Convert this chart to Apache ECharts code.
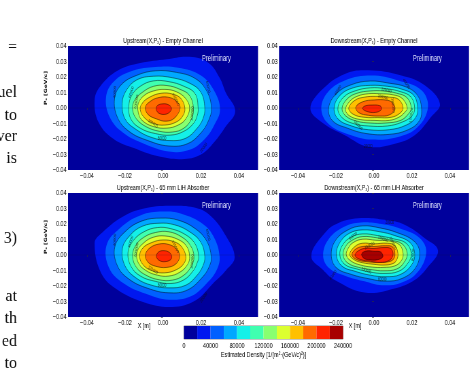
<!DOCTYPE html>
<html><head><meta charset="utf-8">
<style>html,body{margin:0;padding:0;background:#fff;overflow:hidden;width:474px;height:373px}#c{width:697px;height:373px;transform:scaleX(0.68);transform-origin:0 0;filter:blur(0.3px)}</style>
<script src="https://cdn.jsdelivr.net/npm/echarts@6/dist/echarts.min.js"></script>
</head><body><div id="c"></div>
<script>
const bandLevels = [0,20000,40000,60000,80000,100000,120000,140000,160000,180000,200000,220000,240000];
const bandColors = ['#00009c','#0018f0','#0060ff','#00a8ff','#14f0e8','#40ffb0','#88ff70','#dcff30','#ffc000','#ff6a00','#ff2400','#a80000'];
const colorbarTicks = [0,40000,80000,120000,160000,200000,240000];
const xTicks = [-0.04,-0.02,0,0.02,0.04];
const panelTitles = ['Upstream(X,P{s|x}) - Empty Channel','Downstream(X,P{s|x}) - Empty Channel','Upstream(X,P{s|x}) - 65 mm LiH Absorber','Downstream(X,P{s|x}) - 65 mm LiH Absorber'];

// contour outlines, [X, Px] in units of 0.001; the first ring is level 20000, then every 20000
const upstreamEmpty = [
[[38,-2],[33,10],[30,19],[24,29],[14,33],[2,31.5],[-12,29],[-24,24],[-33,14],[-36,5],[-34,-9],[-26,-20],[-15,-26],[-3,-31],[10,-33],[20,-30],[27,-22],[33,-12]],
[[30,-1],[27,11],[20,21],[8,26],[-4,26.5],[-16,24],[-26,17],[-30,7],[-28,-6],[-21,-16],[-10,-23],[3,-28],[14,-27],[22,-20],[27,-11]],
[[25.5,0],[23,11],[17,19],[7,23],[-4,24],[-14,21],[-22,15],[-25.5,6],[-24,-6],[-18,-15],[-8,-21],[3,-24.5],[13,-23],[20,-16],[24,-8]],
[[22,0],[20,10],[14,16],[5,19.5],[-5,20.5],[-14,18],[-19.5,11],[-21.5,3],[-20,-7],[-14,-14],[-6,-19],[3,-21],[12,-19.5],[18,-13],[21,-7]],
[[18.5,0],[17,9],[11,14],[3,17],[-5,17.5],[-12,14],[-16.5,8],[-18,1],[-17,-7],[-12,-13],[-4,-16.5],[4,-17.5],[11,-15],[16,-10],[18,-5]],
[[16,0],[14,8],[9,12],[2,14.5],[-5,14],[-11,10],[-15,5],[-16,-1],[-14,-7],[-9,-12],[-2,-15],[5,-15.5],[11,-13],[15,-7]],
[[14,0],[12,6],[7,10.5],[1,12],[-5,11],[-10,8],[-13,3],[-13,-3],[-11,-8],[-5,-12],[2,-13],[8,-11],[12,-7]],
[[11.5,0],[9.5,6],[5,9],[-1,9.5],[-7,7],[-11,3],[-12,-1],[-10,-6],[-5,-10],[1,-11],[7,-9],[10.5,-5]],
[[9,0],[7,4.5],[2.5,7],[-3,6.5],[-7,4],[-9.3,0.5],[-8,-4],[-3.5,-7],[1.5,-8.5],[6,-6.5]],
[[4.4,0],[3,2],[0,2.7],[-3,1.5],[-3.6,-1],[-2,-3.5],[1.5,-4],[4,-2]]
];
const downstreamEmpty = [
[[34.7,2.8],[26.7,14.6],[14.4,21],[-3,24.3],[-15.4,22],[-27.7,11.4],[-33.5,-0.4],[-27.7,-9],[-15.4,-17.6],[-3,-25],[11,-23],[21.4,-17.6],[30,-5.8]],
[[28.4,0.5],[25,11.4],[12.6,17.8],[-1.4,21],[-15.4,17.8],[-25,9.2],[-27.7,-1.5],[-23.3,-11],[-12,-17.6],[-1.4,-20.4],[12.6,-18.7],[23,-12.3]],
[[25,0],[23,8],[17,13.5],[8,16],[-2,17.4],[-12,15],[-20,9],[-23.9,0],[-22,-8],[-14,-13],[-4,-16.5],[8,-17],[18,-14],[24,-8]],
[[23,0],[21,8],[15,12],[7,14],[-2,14.6],[-11,13],[-18,8],[-21,0],[-19,-7],[-12,-11.5],[-3,-14],[8,-14],[17,-11],[22,-6]],
[[21.4,0],[19.5,7],[14,10.5],[6,12.5],[-2,13],[-10,11],[-16,7],[-19,0],[-17,-6],[-11,-10],[-3,-11.6],[7,-11.6],[15,-9],[20,-5]],
[[19.6,0],[17.5,6.5],[12,9.5],[5,11],[-2,11],[-9,9.5],[-14,6],[-16.8,0],[-15,-5],[-9,-8.5],[-2,-9.7],[6,-9.7],[14,-8],[18,-4]],
[[17.5,0],[15,6],[10,8.5],[3,9.2],[-3,9.2],[-9,7.5],[-13,4],[-15,-1],[-13,-5],[-7,-7.5],[0,-8],[8,-8],[13,-6],[16,-3]],
[[15.3,0],[13,5.5],[8,7],[1,7.5],[-5,7],[-10,5],[-13.3,0],[-11,-4],[-5,-6],[2,-6.2],[9,-6],[13.5,-3.5]],
[[11,-1],[10,3],[7,5],[0,5.2],[-6,4],[-9.6,0.5],[-8,-3],[-3,-4.7],[3,-5.2],[8,-4.5]],
[[4,0],[3,1.5],[-1,1.9],[-5,1.2],[-6,-0.5],[-3,-2.5],[1,-2.8],[3.5,-1.5]]
];
const upstreamLiH = [
[[37.7,-1.5],[33.3,11.9],[25.4,24.9],[17.5,30.3],[5,31.8],[-8.8,30.3],[-21,24.9],[-33.3,13],[-36,7.5],[-33.3,-9.7],[-26.3,-20.5],[-10.5,-30.3],[5,-33.5],[17.5,-29],[26.3,-18.4],[33.3,-9.7]],
[[29.8,-1],[27,11],[21,20],[10,26.5],[0,28],[-12,25.5],[-23,17],[-29.8,6],[-28.5,-8],[-21,-18],[-9,-25],[3,-28.8],[15,-26.5],[24,-17],[28.5,-9]],
[[25.4,-1],[23,9],[17,17],[8,22.5],[-1,23.8],[-11,22],[-20,15],[-25.4,5],[-24,-7],[-18,-15.5],[-8,-21.5],[3,-24.4],[13,-22.5],[21,-14],[24.5,-7]],
[[22,-1],[20,8],[14,15],[6,19.5],[-2,20.5],[-11,18.5],[-17.5,12.5],[-21.4,4],[-20,-7],[-14,-15],[-6,-19.5],[3,-21.2],[12,-19.5],[18,-13],[21,-7]],
[[18.8,-1],[17,7],[12,13],[4,17],[-3,17.7],[-10,15],[-15.5,9.5],[-18.4,2],[-17,-7],[-12,-13.5],[-4,-17],[4,-18.4],[11,-16],[16,-10],[18,-5]],
[[16.3,-1],[14.5,6],[10,11.5],[3,15],[-4,14.5],[-10,11.5],[-14.5,6],[-16,-1],[-14,-8],[-9,-13],[-2,-16],[5,-16.2],[11,-13],[15,-7]],
[[14,-1],[12.5,5.5],[8,10],[1,12.3],[-5,11.5],[-10,8],[-13.7,2],[-13,-5],[-9,-10],[-3,-13],[3,-13.6],[9,-11],[13,-6]],
[[12,-1],[10,5],[6,8.5],[0,9.7],[-6,8],[-11,4],[-12.3,-1.5],[-10,-7],[-5,-10.5],[1,-11.5],[7,-9.5],[11,-5.5]],
[[8.8,-0.5],[7,4],[3,6.8],[-2,7.1],[-7,4.5],[-9.3,0],[-8,-4.5],[-4,-7.2],[2,-8],[7,-5.5]],
[[4.6,-1],[3.5,1.5],[0.5,2.8],[-2.5,1.8],[-3.5,-1],[-2,-3.5],[1,-4.3],[4,-3]]
];
const downstreamLiH = [
[[33.7,2.8],[26.7,10.8],[16.1,19.5],[5.6,22.7],[-6.7,23.8],[-19,20.5],[-26,14],[-33,-0.6],[-26.8,-9.7],[-20.7,-16.2],[-5,-24.2],[10.9,-21.6],[21.4,-16.2],[28.4,-7.6]],
[[27.5,2],[24,11],[14,17],[4,20],[-7,21],[-16,18],[-24,10],[-26.8,0],[-24,-8],[-15,-13.5],[-5,-17],[4,-19.5],[14,-18],[23,-11]],
[[24,2],[21,9],[12,14.5],[3,17.5],[-6,18.8],[-14,16],[-20.5,9],[-22.5,0],[-20,-8],[-12,-12.5],[-2,-15.5],[6,-16.9],[15,-15],[22,-8]],
[[21.4,1],[19,8],[11,12.5],[3,15],[-6,16.2],[-13,14],[-18,8],[-19.8,0],[-17,-7],[-10,-10.5],[-2,-13],[6,-14],[14,-12.5],[20,-6]],
[[19.6,1],[17,7.5],[10,10.5],[2,12.5],[-6,13.6],[-12,11.5],[-16.5,6.5],[-18,0],[-15.5,-6],[-9,-9],[-2,-11],[5,-11.9],[13,-10.5],[18,-5]],
[[17.5,1],[15,7],[9,9.5],[2,11],[-6,11.9],[-11.5,9.5],[-15,5.5],[-16.3,0],[-14,-5],[-8,-8],[-1,-9.5],[5,-10.2],[12,-9],[16,-4.5]],
[[15.3,1],[13.5,6.5],[8,9],[1,9.5],[-6,10.2],[-11,8],[-13.5,4.5],[-14.6,0],[-12,-4],[-7,-6.5],[-1,-7.8],[5,-8],[11,-7],[14.5,-3.5]],
[[12.6,1],[11,6],[7,7.6],[0,7.2],[-6,7.6],[-10,5.5],[-12.8,0.5],[-10.5,-3],[-6,-5],[0,-6],[5,-6.5],[10,-5.5],[12,-3]],
[[11,0],[10,5],[6,6],[0,5.5],[-6,5.5],[-10,3.5],[-11.6,0],[-9,-3],[-4,-4.3],[2,-4.8],[7,-4.5],[10,-3]],
[[10,0],[9,4],[5,4.8],[0,4.2],[-5,4.3],[-9,2],[-10,-0.5],[-7,-3],[-2,-4],[3,-4.8],[8,-3.5]],
[[4.6,0],[3.5,2],[0,2.4],[-4,2.6],[-6.5,0.8],[-5.5,-2],[-2,-3.2],[2,-3],[4.5,-1.5]]
];
// contour labels: X, Px (0.001), text, angle
const labelsUpEmpty = [[-25.4,10.3,'40000',85],[-16.7,10.3,'60000',65],[-14,3.9,'100000',75],[6.7,5.6,'140000',-55],[-5.3,-10,'120000',-25],[-0.5,-20,'80000',0],[15.4,-3.7,'100000',85],[23.7,13.5,'60000',-70],[21.4,-25.6,'20000',45]];
const labelsDownEmpty = [[-19,11.4,'40000',50],[6.5,11.4,'120000',-10],[4.7,7,'160000',-10],[10,1.7,'180000',-80],[19.6,-4.7,'100000',80],[-8.4,-11,'100000',-35],[-3,-25,'20000',0],[17,15.7,'40000',-45]];
const labelsUpLiH = [[-25.4,9.7,'40000',85],[-17,8.6,'60000',65],[-14,3.2,'100000',75],[6.5,5.4,'140000',-55],[-5.3,-9.7,'120000',-25],[-0.5,-19.9,'80000',0],[15.4,-4.3,'100000',85],[23.7,13,'60000',-70],[21.4,-27.5,'20000',45]];
const labelsDownLiH = [[-11,12.3,'60000',30],[-2.3,6,'160000',20],[4.7,10.4,'120000',-15],[10,7.6,'180000',-55],[20.5,0,'80000',85],[-4,-10,'120000',-15],[4.4,-15.8,'60000',0],[8.2,21,'20000',0],[-21.6,-13,'40000',45]];

const SQUEEZE=0.68, X=px=>px/SQUEEZE;
const FONT='"Liberation Sans",sans-serif';
const INK='#000';
const panels = [
 {rings:upstreamEmpty, labels:labelsUpEmpty, left:68, top:46},
 {rings:downstreamEmpty, labels:labelsDownEmpty, left:279, top:46},
 {rings:upstreamLiH, labels:labelsUpLiH, left:68, top:193},
 {rings:downstreamLiH, labels:labelsDownLiH, left:279, top:193}
];
const W=190,H=124;
const grid=[],xAxis=[],yAxis=[],series=[],title=[];
const fmt=v=>v.toFixed(2).replace('-','\u2212').replace(/^\u22120\.00$/,'0.00');
panels.forEach((p,k)=>{
  grid.push({left:X(p.left),top:p.top,width:X(W),height:H,backgroundColor:bandColors[0],show:true,borderWidth:0});
  xAxis.push({gridIndex:k,type:'value',min:-0.05,max:0.05,splitLine:{show:false},axisLine:{show:false},
    axisTick:{show:true,length:2,customValues:xTicks,lineStyle:{color:'#333',width:0.6}},
    axisLabel:{customValues:xTicks,formatter:v=>fmt(v),fontFamily:FONT,fontSize:8,color:INK,margin:2}});
  yAxis.push({gridIndex:k,type:'value',min:-0.04,max:0.04,interval:0.01,splitLine:{show:false},axisLine:{show:false},
    axisTick:{show:true,length:3,lineStyle:{color:'#333',width:0.6}},
    axisLabel:{formatter:v=>fmt(v),fontFamily:FONT,fontSize:8,color:INK,margin:2}});
  const rings=p.rings;
  series.push({type:'custom',xAxisIndex:k,yAxisIndex:k,coordinateSystem:'cartesian2d',clip:true,silent:true,
    data:rings.map((r,i)=>[0,0,bandLevels[i+1]]),
    renderItem:(params,api)=>{
      const i=params.dataIndex;
      const pts=rings[i].map(q=>api.coord([q[0]/1000,q[1]/1000]));
      return {type:'polygon',shape:{points:pts,smooth:0.4},
        style:{fill:bandColors[i+1],stroke:i>=2?'rgba(0,0,0,0.7)':null,lineWidth:i>=2?0.65:0}};
    }});
  series.push({type:'line',xAxisIndex:k,yAxisIndex:k,silent:true,symbol:'none',z:3,
    data:[[-0.05,0],[0.05,0]],lineStyle:{color:'rgba(20,20,40,0.25)',width:0.6}});
  series.push({type:'scatter',xAxisIndex:k,yAxisIndex:k,silent:true,symbolSize:0,z:4,
    data:p.labels.map(l=>({value:[l[0]/1000,l[1]/1000],label:{show:true,position:'inside',formatter:l[2],rotate:l[3],fontSize:4.5,fontFamily:FONT,color:'#111'}}))});
  title.push({text:panelTitles[k],left:X(p.left+W/2),top:p.top-10,textAlign:'center',padding:0,
    textStyle:{fontFamily:FONT,fontSize:8,fontWeight:'normal',color:INK,lineHeight:9,
      rich:{s:{fontSize:5,verticalAlign:'bottom',fontFamily:FONT,color:INK}}}});
  title.push({text:'Preliminary',left:X(p.left+134),top:p.top+8,padding:0,
    textStyle:{fontFamily:FONT,fontSize:8.5,fontWeight:'normal',color:'#e0e4ff'}});
});
// colorbar
const cb=panels.length;
grid.push({left:X(184),top:326,width:X(159),height:13,show:true,backgroundColor:'#fff',borderColor:'#111',borderWidth:0.5});
xAxis.push({gridIndex:cb,type:'value',min:0,max:240000,interval:40000,splitLine:{show:false},axisLine:{show:false},axisTick:{show:false},
  axisLabel:{formatter:v=>String(v),fontFamily:FONT,fontSize:8,color:INK,margin:3},
  name:'Estimated Density [1/(m\u00b2\u00b7(GeV/c)\u00b2)]',nameLocation:'middle',nameGap:12,nameTextStyle:{fontFamily:FONT,fontSize:8,color:INK}});
yAxis.push({gridIndex:cb,type:'value',min:0,max:1,show:false});
series.push({type:'custom',xAxisIndex:cb,yAxisIndex:cb,silent:true,clip:true,
  data:bandColors.map((c,i)=>[bandLevels[i],bandLevels[i+1]]),
  renderItem:(params,api)=>{
    const a=api.coord([api.value(0),1]),b=api.coord([api.value(1),0]);
    return {type:'rect',shape:{x:a[0],y:a[1],width:b[0]-a[0],height:b[1]-a[1]},style:{fill:bandColors[params.dataIndex]}};
  }});
const serif='"Liberation Serif",serif';
const edgeText=(t,y)=>({type:'text',x:X(17),y:y,scaleX:1/SQUEEZE,style:{text:t,font:'16px '+serif,fill:'#111',textAlign:'right',textVerticalAlign:'middle'}});
const rotated=y=>({type:'text',x:X(46),y:y,rotation:Math.PI/2,style:{text:'P\u2093 [GeV/c]',font:'bold 6px "DejaVu Sans"',fill:INK,textAlign:'center',textVerticalAlign:'middle'}});
const axisName=x=>({type:'text',x:X(x),y:326,style:{text:'X [m]',font:'8px '+FONT,fill:INK,textAlign:'center',textVerticalAlign:'middle'}});
const graphic=[
 edgeText('=',48),edgeText('uel',93),edgeText('to',116),edgeText('ver',137),edgeText('is',159),
 edgeText('3)',239),edgeText('at',297),edgeText('th',319),edgeText('ed',342),edgeText('to',364),
 rotated(88),rotated(237),axisName(144),axisName(355)
];
const chart=echarts.init(document.getElementById('c'),null,{renderer:'canvas'});
chart.setOption({animation:false,backgroundColor:'#fff',title,grid,xAxis,yAxis,series,graphic});
</script></body></html>
